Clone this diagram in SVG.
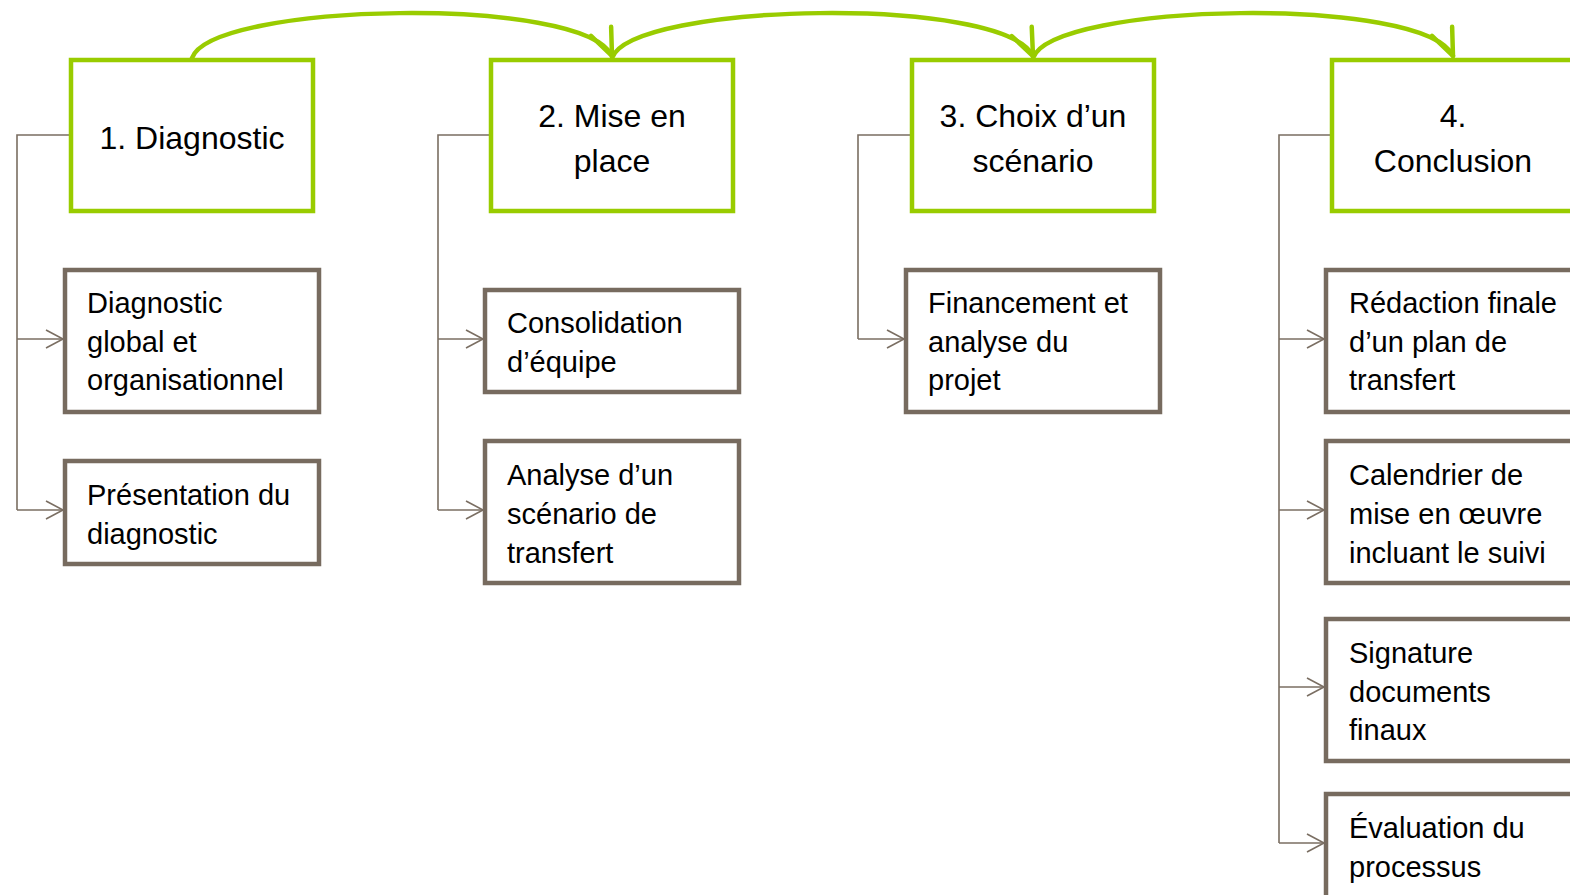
<svg xmlns="http://www.w3.org/2000/svg" width="1570" height="895" viewBox="0 0 1570 895">
<style>
.head rect{fill:#fff;stroke:#99CC00;stroke-width:4.5}
.sub rect{fill:#fff;stroke:#776B5F;stroke-width:4.5}
.head text{font-family:"Liberation Sans",Arial,sans-serif;font-size:32px;fill:#000;text-anchor:middle}
.sub text{font-family:"Liberation Sans",Arial,sans-serif;font-size:29px;fill:#000}
.link{fill:none;stroke:#7A6E62;stroke-width:1.6}
.flow{fill:none;stroke:#99CC00;stroke-width:4.5;stroke-linecap:round}
</style>
<defs>
<marker id="openArrow" markerUnits="userSpaceOnUse" markerWidth="24" markerHeight="24" viewBox="-20 -12 24 24" refX="0" refY="0" orient="auto">
<path d="M-17,-9 L0,0 L-17,9" fill="none" stroke="#7A6E62" stroke-width="1.6"/>
</marker>
<marker id="greenArrow" markerUnits="userSpaceOnUse" markerWidth="44" markerHeight="44" viewBox="-36 -22 44 44" refX="0" refY="0" orient="auto">
<path d="M-27,-11 L0,0 L-27,11" fill="none" stroke="#99CC00" stroke-width="4.5" stroke-linecap="round" stroke-linejoin="round"/>
</marker>
</defs>

<g id="connectors">
<path class="flow" d="M192,58 C212,2 585,-5 612,56" marker-end="url(#greenArrow)"/>
<path class="flow" d="M612,58 C632,2 1005,-5 1033,56" marker-end="url(#greenArrow)"/>
<path class="flow" d="M1033,58 C1053,2 1426,-5 1453,56" marker-end="url(#greenArrow)"/>

<path class="link" d="M71,135 H17 V510"/>
<path class="link" d="M17,339 H63" marker-end="url(#openArrow)"/>
<path class="link" d="M17,510 H63" marker-end="url(#openArrow)"/>

<path class="link" d="M491,135 H438 V510"/>
<path class="link" d="M438,339 H483" marker-end="url(#openArrow)"/>
<path class="link" d="M438,510 H483" marker-end="url(#openArrow)"/>

<path class="link" d="M912,135 H858 V339"/>
<path class="link" d="M858,339 H904" marker-end="url(#openArrow)"/>

<path class="link" d="M1332,135 H1279 V843"/>
<path class="link" d="M1279,339 H1324" marker-end="url(#openArrow)"/>
<path class="link" d="M1279,510 H1324" marker-end="url(#openArrow)"/>
<path class="link" d="M1279,687 H1324" marker-end="url(#openArrow)"/>
<path class="link" d="M1279,843 H1324" marker-end="url(#openArrow)"/>
</g>

<g id="step1" class="head">
<rect x="71" y="60" width="242" height="151"/>
<text x="192" y="149">1. Diagnostic</text>
</g>
<g id="step2" class="head">
<rect x="491" y="60" width="242" height="151"/>
<text x="612" y="127">2. Mise en</text>
<text x="612" y="172">place</text>
</g>
<g id="step3" class="head">
<rect x="912" y="60" width="242" height="151"/>
<text x="1033" y="127">3. Choix d’un</text>
<text x="1033" y="172">scénario</text>
</g>
<g id="step4" class="head">
<rect x="1332" y="60" width="250" height="151"/>
<text x="1453" y="127">4.</text>
<text x="1453" y="172">Conclusion</text>
</g>

<g id="diag-global" class="sub">
<rect x="65" y="270" width="254" height="142"/>
<text x="87" y="313">Diagnostic</text>
<text x="87" y="352">global et</text>
<text x="87" y="390">organisationnel</text>
</g>
<g id="diag-presentation" class="sub">
<rect x="65" y="461" width="254" height="103"/>
<text x="87" y="505">Présentation du</text>
<text x="87" y="544">diagnostic</text>
</g>

<g id="consolidation" class="sub">
<rect x="485" y="290" width="254" height="102"/>
<text x="507" y="333">Consolidation</text>
<text x="507" y="372">d’équipe</text>
</g>
<g id="analyse-scenario" class="sub">
<rect x="485" y="441" width="254" height="142"/>
<text x="507" y="485">Analyse d’un</text>
<text x="507" y="524">scénario de</text>
<text x="507" y="563">transfert</text>
</g>

<g id="financement" class="sub">
<rect x="906" y="270" width="254" height="142"/>
<text x="928" y="313">Financement et</text>
<text x="928" y="352">analyse du</text>
<text x="928" y="390">projet</text>
</g>

<g id="redaction" class="sub">
<rect x="1326" y="270" width="260" height="142"/>
<text x="1349" y="313">Rédaction finale</text>
<text x="1349" y="352">d’un plan de</text>
<text x="1349" y="390">transfert</text>
</g>
<g id="calendrier" class="sub">
<rect x="1326" y="441" width="260" height="142"/>
<text x="1349" y="485">Calendrier de</text>
<text x="1349" y="524">mise en œuvre</text>
<text x="1349" y="563">incluant le suivi</text>
</g>
<g id="signature" class="sub">
<rect x="1326" y="619" width="260" height="142"/>
<text x="1349" y="663">Signature</text>
<text x="1349" y="702">documents</text>
<text x="1349" y="740">finaux</text>
</g>
<g id="evaluation" class="sub">
<rect x="1326" y="794" width="260" height="142"/>
<text x="1349" y="838">Évaluation du</text>
<text x="1349" y="877">processus</text>
</g>
</svg>
